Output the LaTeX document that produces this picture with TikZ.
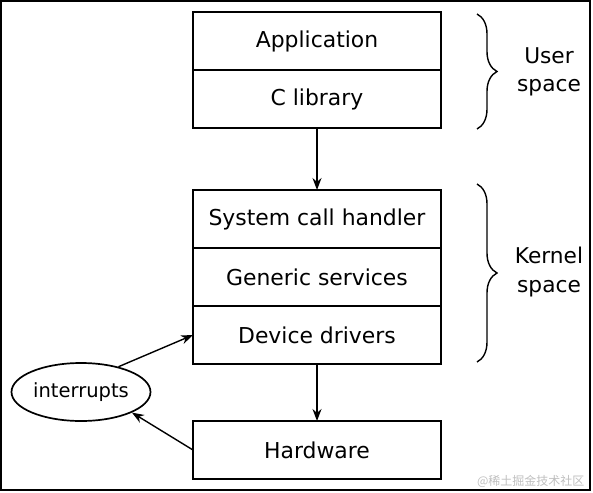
\documentclass[tikz,border=0pt]{standalone}
\usepackage{fontspec}
\setmainfont{DejaVu Sans}
\newfontfamily\cjk{Noto Sans CJK SC}
\usetikzlibrary{positioning, arrows.meta, shapes.geometric, decorations.pathreplacing}

\tikzset{
	part/.style={draw, line width=1.7pt, minimum width=248pt, minimum height=58pt, inner sep=0pt, outer sep=0pt, font=\fontsize{21.9}{26}\selectfont},
	arrow/.style={-{Stealth[length=12pt, width=9pt]}, line width=1.4pt},
	curly/.style={decorate, decoration={brace, amplitude=20pt}, line width=1.4pt},
	side/.style={align=center, font=\fontsize{21.7}{28.5}\selectfont}
}

\begin{document}
\begin{tikzpicture}[x=1pt, y=-1pt]
	\useasboundingbox (0,0) rectangle (593,492);
	\draw [line width=1.7pt] (1,1) rectangle (590,490);
	
	% user space
	\node [part] (app) at (317,41) {Application};
	\node [part, below=0pt of app] (lib) {C library};
	
	% kernel space
	\node [part] (sys) at (317,219) {System call handler};
	\node [part, below=0pt of sys] (gen) {Generic services};
	\node [part, below=0pt of gen] (drv) {Device drivers};
	
	\node [part] (hw) at (317,450) {Hardware};
	\node [draw, ellipse, line width=1.7pt, minimum width=139pt, minimum height=58pt, inner sep=0pt, font=\fontsize{19.5}{24}\selectfont] (intr) at (81,392) {interrupts};
	
	\draw [arrow] (lib.south) -- (sys.north);
	\draw [arrow] (drv.south) -- (hw.north);
	\draw [arrow] (intr.34) -- (drv.west);
	\draw [arrow] (hw.west) -- (intr.-22);
	
	% braces
	\coordinate (ut) at (477,14);
	\coordinate (ub) at (477,129);
	\coordinate (kt) at (477,184);
	\coordinate (kb) at (477,362);
	\draw [curly] (ut) -- (ub);
	\draw [curly] (kt) -- (kb);
	\node [side] (user) at (549,72) {User\\space};
	\node [side] (kern) at (549,272) {Kernel\\space};
	
	\node [text=black!25, font=\cjk\fontsize{12}{14}\selectfont, anchor=east] (mark) at (588,481) {@稀土掘金技术社区};
\end{tikzpicture}
\end{document}
